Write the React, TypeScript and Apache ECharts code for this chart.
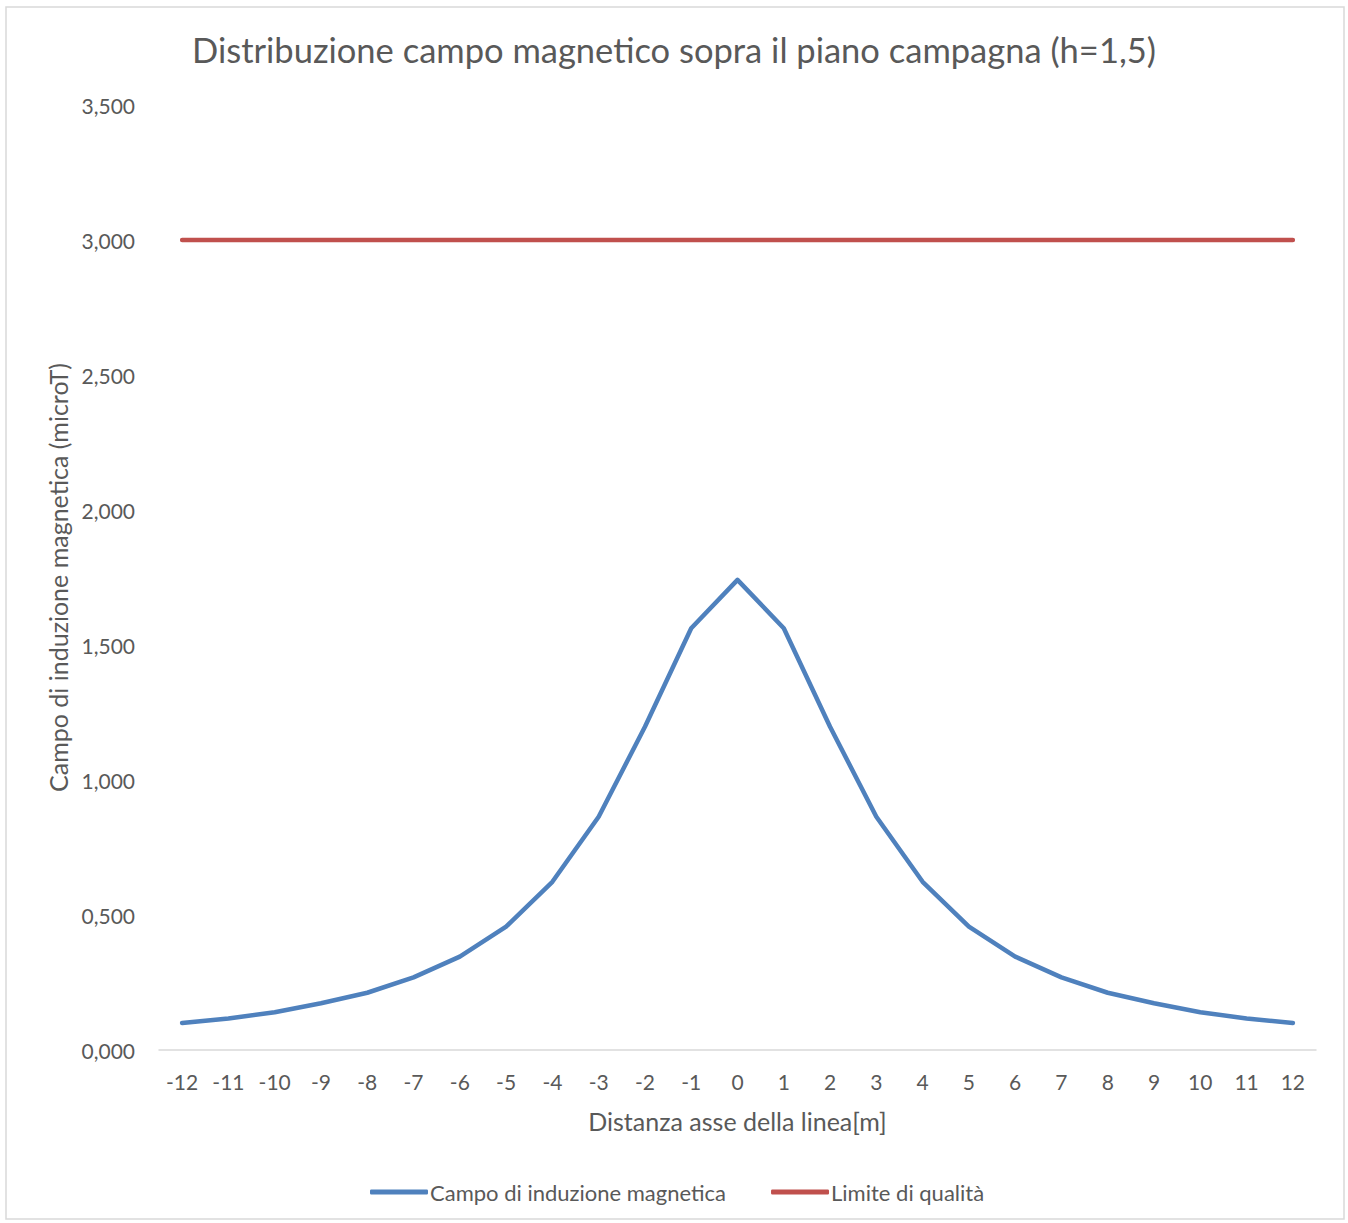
import React, { useEffect, useRef } from "react";
import * as echarts from "echarts";

const distances = ["-12","-11","-10","-9","-8","-7","-6","-5","-4","-3","-2","-1","0","1","2","3","4","5","6","7","8","9","10","11","12"];
const campo = [0.10, 0.117, 0.14, 0.173, 0.212, 0.269, 0.346, 0.457, 0.623, 0.864, 1.197, 1.562, 1.741, 1.562, 1.197, 0.864, 0.623, 0.457, 0.346, 0.269, 0.212, 0.173, 0.14, 0.117, 0.10];
const limite = [3, 3, 3, 3, 3, 3, 3, 3, 3, 3, 3, 3, 3, 3, 3, 3, 3, 3, 3, 3, 3, 3, 3, 3, 3];
const seriesNames = ["Campo di induzione magnetica", "Limite di qualità"];

const FONT = "Lato, 'Open Sans', sans-serif";
const TXT = "#595959";

export default function App() {
  const ref = useRef<HTMLDivElement>(null);
  useEffect(() => {
    document.body.style.margin = "0";
    const chart = echarts.init(ref.current!, null, { renderer: "svg" });
    chart.setOption({
      animation: false,
      backgroundColor: "#fff",
      textStyle: { fontFamily: FONT, color: TXT },
      title: {
        text: "Distribuzione campo magnetico sopra il piano campagna (h=1,5)",
        left: "center",
        top: 27,
        textStyle: { fontFamily: FONT, fontSize: 34.5, fontWeight: "normal", color: TXT },
      },
      graphic: [
        {
          type: "rect",
          shape: { x: 6, y: 7, width: 1338, height: 1212 },
          style: { fill: "none", stroke: "#d9d9d9", lineWidth: 1.5 },
          silent: true,
        },
      ],
      grid: { left: 159, right: 32, top: 105, bottom: 173, containLabel: false },
      legend: {
        data: seriesNames,
        left: 365,
        top: 1176,
        itemWidth: 58,
        itemHeight: 5,
        itemGap: 45,
        icon: "roundRect",
        textStyle: { fontFamily: FONT, fontSize: 22, color: TXT, padding: [0, 0, 0, -3] },
      },
      xAxis: {
        type: "category",
        data: distances,
        boundaryGap: true,
        name: "Distanza asse della linea[m]",
        nameLocation: "middle",
        nameGap: 58,
        nameTextStyle: { fontFamily: FONT, fontSize: 25, color: TXT },
        axisLine: { lineStyle: { color: "#d9d9d9", width: 1.5 } },
        axisTick: { show: false },
        axisLabel: { fontFamily: FONT, fontSize: 21, color: TXT, margin: 21, interval: 0 },
        splitLine: { show: false },
      },
      yAxis: {
        type: "value",
        min: 0,
        max: 3.5,
        interval: 0.5,
        name: "Campo di induzione magnetica (microT)",
        nameLocation: "middle",
        nameGap: 89,
        nameTextStyle: { fontFamily: FONT, fontSize: 25, color: TXT },
        axisLine: { show: false },
        axisTick: { show: false },
        splitLine: { show: false },
        axisLabel: {
          fontFamily: FONT,
          fontSize: 21,
          color: TXT,
          margin: 24,
          formatter: (v: number) => v.toFixed(3).replace(".", ","),
        },
      },
      series: [
        {
          name: seriesNames[0],
          type: "line",
          data: campo,
          showSymbol: false,
          symbol: "none",
          lineStyle: { color: "#4f81bd", width: 4.5, cap: "round", join: "round" },
          itemStyle: { color: "#4f81bd" },
        },
        {
          name: seriesNames[1],
          type: "line",
          data: limite,
          showSymbol: false,
          symbol: "none",
          lineStyle: { color: "#c0504d", width: 4.5, cap: "round" },
          itemStyle: { color: "#c0504d" },
        },
      ],
    });
    return () => chart.dispose();
  }, []);
  return <div ref={ref} style={{ width: 1348, height: 1223 }} />;
}
